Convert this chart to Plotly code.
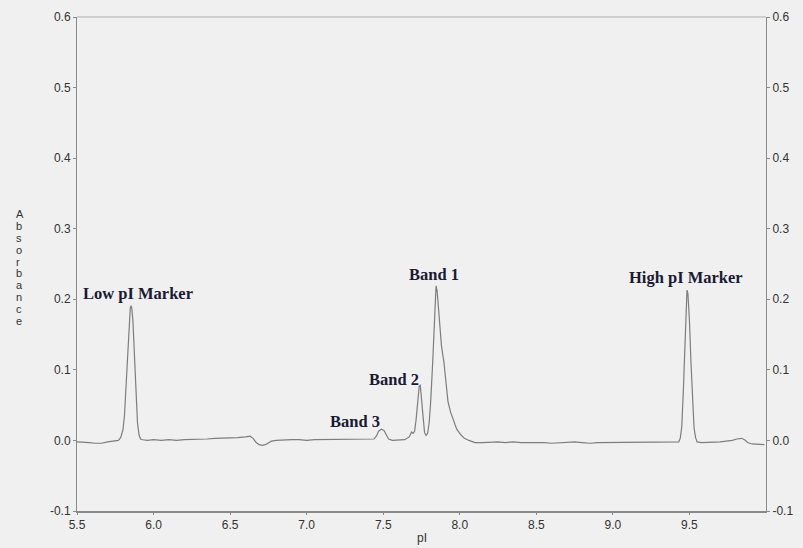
import plotly.graph_objects as go

# pI values and absorbance
pI = [5.50, 5.54, 5.58, 5.62, 5.66, 5.70, 5.74, 5.77,
      5.785, 5.80, 5.81, 5.82, 5.83, 5.84, 5.848, 5.853, 5.858, 5.865, 5.875, 5.885, 5.895, 5.905, 5.915, 5.93,
      5.96, 6.00, 6.05, 6.10, 6.15, 6.20, 6.25, 6.30, 6.35, 6.40, 6.45, 6.50, 6.55, 6.60, 6.63,
      6.65, 6.67, 6.69, 6.71, 6.73, 6.75, 6.77, 6.80, 6.85, 6.90, 6.95, 7.00, 7.05, 7.10, 7.15,
      7.20, 7.25, 7.30, 7.35, 7.40, 7.44,
      7.455, 7.47, 7.488, 7.505, 7.52, 7.535, 7.56, 7.60, 7.64, 7.67, 7.685, 7.695, 7.705,
      7.715, 7.725, 7.735, 7.742, 7.75, 7.76, 7.77, 7.78, 7.79,
      7.80, 7.81, 7.823, 7.833, 7.84, 7.845, 7.852, 7.86, 7.87, 7.88, 7.89, 7.897, 7.91, 7.923,
      7.94, 7.963, 7.98, 8.007, 8.03, 8.06, 8.10, 8.15, 8.20, 8.25, 8.30, 8.35, 8.40, 8.45,
      8.50, 8.55, 8.60, 8.65, 8.70, 8.75, 8.80, 8.85, 8.90, 8.95, 9.00, 9.05, 9.10, 9.15,
      9.20, 9.25, 9.30, 9.35, 9.40, 9.43,
      9.44, 9.45, 9.46, 9.47, 9.478, 9.484, 9.49, 9.50, 9.51, 9.52, 9.53, 9.54, 9.55,
      9.58, 9.62, 9.66, 9.70, 9.74, 9.78, 9.81, 9.84, 9.86, 9.88, 9.91, 9.95, 9.99]
absorbance = [-0.002, -0.002, -0.003, -0.004, -0.004, -0.002, -0.001, 0.000,
              0.004, 0.015, 0.035, 0.075, 0.125, 0.170, 0.188, 0.191, 0.187, 0.170, 0.120, 0.065, 0.025, 0.008, 0.002, 0.001,
              0.000, 0.001, 0.000, 0.001, 0.000, 0.001, 0.001, 0.002, 0.002, 0.003, 0.003, 0.004, 0.004, 0.005, 0.006,
              0.003, -0.003, -0.006, -0.007, -0.006, -0.003, -0.001, 0.000, 0.001, 0.001, 0.001, 0.000, 0.001, 0.001, 0.001,
              0.002, 0.001, 0.002, 0.001, 0.002, 0.002,
              0.006, 0.013, 0.016, 0.014, 0.008, 0.002, 0.000, 0.001, 0.001, 0.005, 0.012, 0.010, 0.013,
              0.030, 0.060, 0.077, 0.078, 0.060, 0.028, 0.011, 0.007, 0.010,
              0.025, 0.055, 0.110, 0.160, 0.200, 0.219, 0.212, 0.192, 0.155, 0.135, 0.120, 0.110, 0.082, 0.055,
              0.040, 0.027, 0.016, 0.008, 0.003, 0.000, -0.003, -0.003, -0.002, -0.002, -0.003, -0.002, -0.003, -0.003,
              -0.002, -0.003, -0.004, -0.003, -0.003, -0.002, -0.003, -0.004, -0.003, -0.003, -0.003, -0.002, -0.002, -0.003,
              -0.002, -0.003, -0.003, -0.003, -0.003, -0.002,
              0.003, 0.020, 0.070, 0.140, 0.195, 0.213, 0.208, 0.170, 0.110, 0.055, 0.018, 0.004, -0.002,
              -0.003, -0.003, -0.002, -0.002, -0.001, 0.000, 0.002, 0.003, 0.001, -0.003, -0.005, -0.006, -0.006]

x_ticks = [5.5, 6.0, 6.5, 7.0, 7.5, 8.0, 8.5, 9.0, 9.5]
y_ticks = [-0.1, 0.0, 0.1, 0.2, 0.3, 0.4, 0.5, 0.6]

label_text = ["Low pI Marker", "Band 1", "Band 2", "Band 3", "High pI Marker"]
label_x = [5.896, 7.829, 7.569, 7.314, 9.476]
label_y = [0.2080, 0.2354, 0.0858, 0.0266, 0.2308]

y_title = "Absorbance"

BG = "#f0f0f0"
AX = "#8a8a8a"

fig = go.Figure()
fig.add_trace(go.Scatter(x=pI, y=absorbance, mode="lines",
                         line=dict(color="#7d7d7d", width=1.2), showlegend=False,
                         hoverinfo="skip"))
# invisible trace to show the right-hand axis
fig.add_trace(go.Scatter(x=[pI[0]], y=[absorbance[0]], yaxis="y2", mode="lines",
                         line=dict(color="rgba(0,0,0,0)"), showlegend=False, hoverinfo="skip"))

for t, lx, ly in zip(label_text, label_x, label_y):
    fig.add_annotation(x=lx, y=ly, text="<b>" + t + "</b>", showarrow=False,
                       font=dict(family="Liberation Serif", size=16.5, color="#1a1a33"))

tickfont = dict(family="Liberation Sans", size=12, color="#333333")
fig.update_layout(
    width=803, height=548,
    margin=dict(l=77, r=36, t=10, b=37),
    paper_bgcolor=BG, plot_bgcolor=BG,
    xaxis=dict(range=[5.5, 10.0], tickvals=x_ticks, ticktext=[f"{v:.1f}" for v in x_ticks],
               showgrid=False, zeroline=False, showline=True, linecolor=AX, linewidth=1.8,
               ticks="outside", ticklen=2, tickcolor=AX, tickfont=tickfont),
    yaxis=dict(range=[-0.1, 0.6], tickvals=y_ticks, ticktext=[f"{v:.1f}" for v in y_ticks],
               showgrid=False, zeroline=False, showline=True, linecolor=AX, linewidth=1,
               ticks="outside", ticklen=3, tickcolor=AX, tickfont=tickfont),
    yaxis2=dict(range=[-0.1, 0.6], tickvals=y_ticks, ticktext=[f"{v:.1f}" for v in y_ticks],
                overlaying="y", side="right", anchor="x",
                showgrid=False, zeroline=False, showline=True, linecolor=AX, linewidth=1,
                ticks="outside", ticklen=3, tickcolor=AX, tickfont=tickfont),
)
# thin light frame line along the top
fig.add_shape(type="line", xref="paper", yref="paper", x0=0, x1=1, y0=1, y1=1,
              line=dict(color="#b0b0b0", width=1))

# stacked vertical axis title, one letter per row (12 px apart)
plot_h = 548 - 10 - 37
for i, ch in enumerate(y_title):
    py = 210 + 12 * i
    fig.add_annotation(xref="paper", yref="paper", x=-0.0913, y=(511 - py) / plot_h,
                       text=ch, showarrow=False, yanchor="middle",
                       font=dict(family="Liberation Sans", size=11, color="#333333"))
fig.add_annotation(xref="paper", yref="paper", x=0.501, y=-0.054, yanchor="middle",
                   text="pI", showarrow=False,
                   font=dict(family="Liberation Sans", size=12, color="#333333"))

fig.write_html("out.html", config={"displayModeBar": False},
               post_script="document.body.style.margin='0';document.body.style.background='#f0f0f0';")
